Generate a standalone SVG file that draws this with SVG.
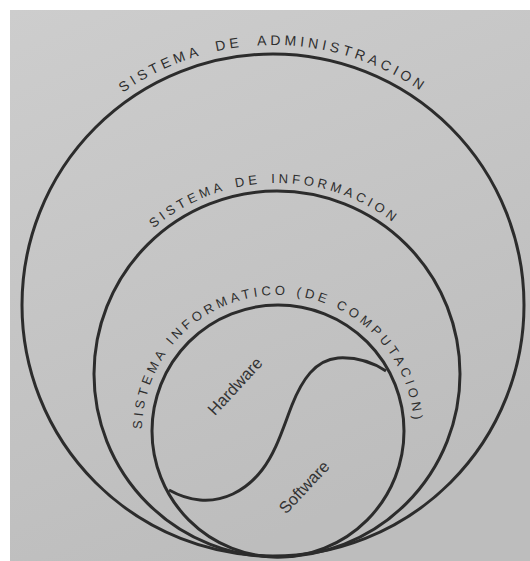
<svg xmlns="http://www.w3.org/2000/svg" width="530" height="561" viewBox="0 0 530 561">
  <style>
    .ring { fill: none; stroke: #2c2c2c; stroke-width: 3; }
    .arc { font-family: "Liberation Sans", Arial, sans-serif; fill: #2e2e2e; }
    .lbl { font-family: "Liberation Sans", Arial, sans-serif; fill: #333333; font-size: 16.5px; }
  </style>
  <defs>
    <linearGradient id="bg" x1="0" y1="0" x2="0.4" y2="1">
      <stop offset="0" stop-color="#cdcdcd"/>
      <stop offset="1" stop-color="#bdbdbd"/>
    </linearGradient>
    <path id="pOuter" d="M 16.95 350.15 A 260 260 0 1 1 529.05 350.15"/>
    <path id="pMid" d="M 88.9 407.2 A 191 191 0 1 1 465.1 407.2"/>
    <path id="pInner" d="M 160.22 499 A 136 136 0 1 1 395.78 499"/>
  </defs>
  <rect x="0" y="0" width="530" height="561" fill="#ffffff"/>
  <rect x="10" y="10" width="520" height="551" fill="url(#bg)"/>

  <g id="sistema-administracion">
    <circle class="ring" cx="273" cy="305" r="251"/>
    <text class="arc" font-size="14" letter-spacing="3.9" word-spacing="7" text-anchor="middle"><textPath href="#pOuter" startOffset="50%">SISTEMA DE ADMINISTRACION</textPath></text>
  </g>

  <g id="sistema-informacion">
    <circle class="ring" cx="277" cy="374" r="183"/>
    <text class="arc" font-size="13" letter-spacing="3.7" word-spacing="3" text-anchor="middle"><textPath href="#pMid" startOffset="49.5%">SISTEMA DE INFORMACION</textPath></text>
  </g>

  <g id="sistema-informatico">
    <circle class="ring" cx="278" cy="431" r="126"/>
    <text class="arc" font-size="13" letter-spacing="3.8" text-anchor="middle"><textPath href="#pInner" startOffset="49.5%">SISTEMA INFORMATICO (DE COMPUTACION)</textPath></text>
  </g>

  <g id="connectors">
    <path class="ring" d="M 386 371 C 372 362, 355 357, 338 358 C 315 360, 302 380, 292 405 C 283 428, 276 452, 262 470 C 245 492, 222 502, 200 500 C 188 499, 178 495, 169 490"/>
  </g>

  <g id="hardware">
    <text class="lbl" x="236" y="387" text-anchor="middle" dominant-baseline="middle" transform="rotate(-47 236 387)">Hardware</text>
  </g>

  <g id="software">
    <text class="lbl" x="305" y="488" text-anchor="middle" dominant-baseline="middle" transform="rotate(-47 305 488)">Software</text>
  </g>
</svg>
